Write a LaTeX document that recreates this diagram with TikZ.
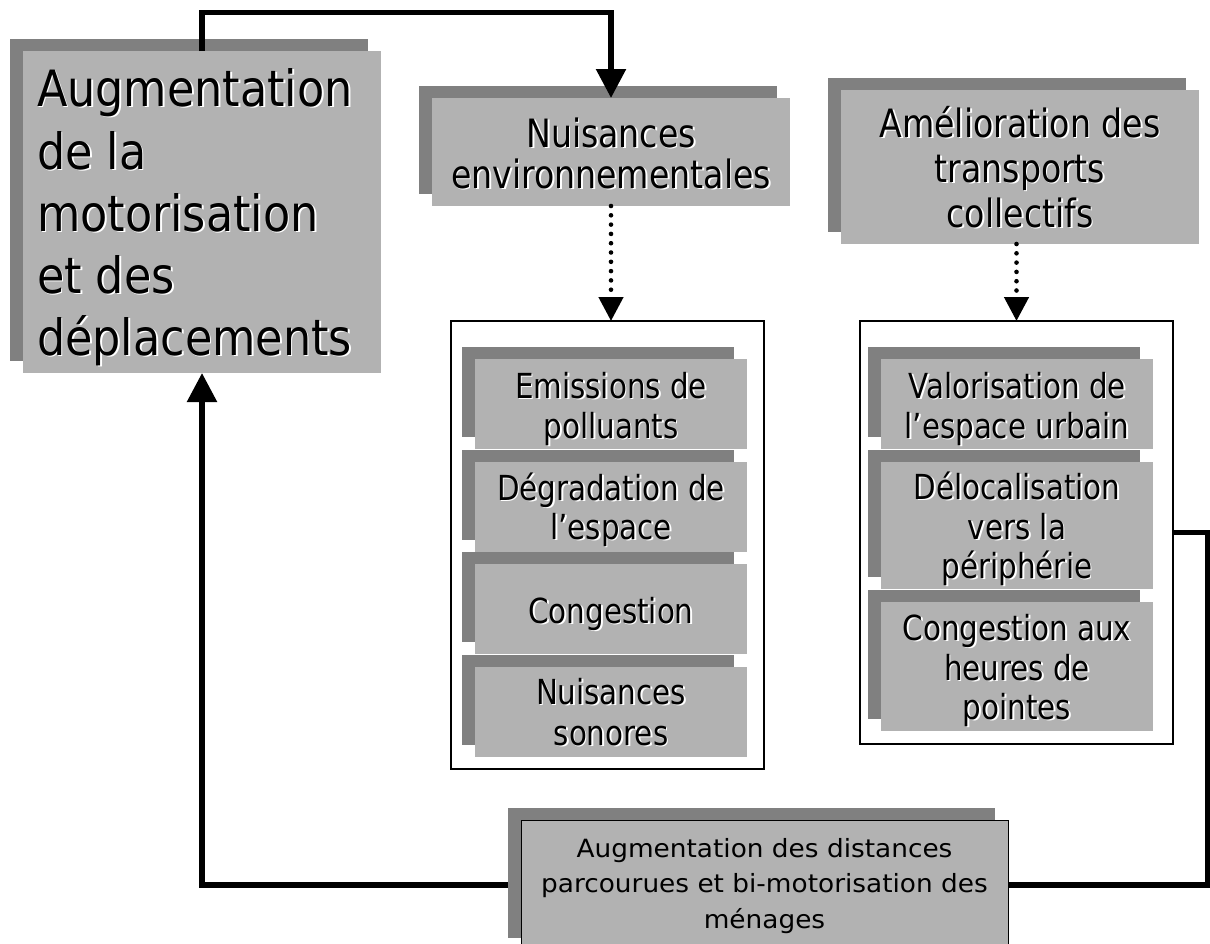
\documentclass[tikz,border=0pt]{standalone}
\usepackage{fontspec}
\setmainfont{DejaVu Sans}
\newfontfamily\cfont[FakeStretch=0.85]{DejaVu Sans}
\newfontfamily\bigfont[FakeStretch=0.89]{DejaVu Sans}
\newfontfamily\widefont[FakeStretch=1.05]{DejaVu Sans}
\usetikzlibrary{arrows.meta,calc}
\definecolor{shadowgray}{RGB}{128,128,128}
\definecolor{boxgray}{RGB}{178,178,178}
\pgfdeclarelayer{bg}
\pgfsetlayers{bg,main}
\tikzset{
  mainbox/.style={fill=boxgray, draw=none, inner sep=0pt, outer sep=0pt, anchor=north west},
  contframe/.style={draw=black, line width=1.5pt, fill=white, inner sep=0pt, outer sep=0pt, anchor=north west},
  txt/.style={inner sep=0pt, outer sep=0pt},
  fbig/.style={txt, font=\bigfont\fontsize{50}{58}\selectfont},
  fmid/.style={txt, font=\cfont\fontsize{39}{46}\selectfont},
  fsmall/.style={txt, font=\cfont\fontsize{34.5}{40}\selectfont},
  fbot/.style={txt, font=\widefont\fontsize{25.1}{30}\selectfont},
  conn/.style={line width=5.5pt, line join=miter},
  solidarrow/.style={conn, -{Triangle[width=29pt,length=29pt]}},
  dotarrow/.style={line width=4.6pt, line cap=round, dash pattern=on 0pt off 9.3pt, -{Triangle[width=24pt,length=24pt]}},
}
\newcommand\gbox[6][]{%
  \fill[shadowgray] (#3-13,#4-12.5) rectangle (#5-13,#6-12.5);
  \node[mainbox, minimum width={#5-#3}, minimum height={#6-#4}, #1] (#2) at (#3,#4) {};
}
\newcommand\etx[4]{%
  \node[anchor=base, #3, text=white] (#1w) at ([xshift=1.8pt,yshift=-1.8pt]#2) {#4};
  \node[anchor=base, #3] (#1) at (#2) {#4};
}
\begin{document}
\begin{tikzpicture}[x=1pt,y=-1pt]
\useasboundingbox (0,0) rectangle (1210,943);
\clip (0,0) rectangle (1210,943);

% main boxes
\gbox{aug}{23}{51}{381}{373}
\etx{a1}{37,106}{fbig, anchor=base west}{Augmentation}
\etx{a2}{37,169}{fbig, anchor=base west}{de la}
\etx{a3}{37,231}{fbig, anchor=base west}{motorisation}
\etx{a4}{37,293}{fbig, anchor=base west}{et des}
\etx{a5}{37,355}{fbig, anchor=base west}{déplacements}

\gbox{nuis}{432}{98}{790}{206}
\etx{n1}{611,147}{fmid}{Nuisances}
\etx{n2}{611,188}{fmid}{environnementales}

\gbox{amel}{841}{90}{1199}{244}
\etx{m1}{1020,137}{fmid}{Amélioration des}
\etx{m2}{1020,182}{fmid}{transports}
\etx{m3}{1020,227}{fmid}{collectifs}

% containers
\node[contframe, minimum width=313, minimum height=448] (cont1) at (451,321) {};
\node[contframe, minimum width=313, minimum height=423] (cont2) at (860,321) {};

% sub boxes, left container
\gbox{e1}{475}{359}{747}{449}
\etx{e1a}{611,398}{fsmall}{Emissions de}
\etx{e1b}{611,438}{fsmall}{polluants}
\gbox{e2}{475}{462}{747}{552}
\etx{e2a}{611,500}{fsmall}{Dégradation de}
\etx{e2b}{611,539}{fsmall}{l’espace}
\gbox{e3}{475}{564}{747}{654}
\etx{e3a}{611,623}{fsmall}{Congestion}
\gbox{e4}{475}{667}{747}{757}
\etx{e4a}{611,704}{fsmall}{Nuisances}
\etx{e4b}{611,745}{fsmall}{sonores}

% sub boxes, right container
\gbox{v1}{881}{359}{1153}{449}
\etx{v1a}{1017,398}{fsmall}{Valorisation de}
\etx{v1b}{1017,438}{fsmall}{l’espace urbain}
\gbox{v2}{881}{462}{1153}{589}
\etx{v2a}{1017,499}{fsmall}{Délocalisation}
\etx{v2b}{1017,539}{fsmall}{vers la}
\etx{v2c}{1017,578}{fsmall}{périphérie}
\gbox{v3}{881}{602}{1153}{731}
\etx{v3a}{1017,640}{fsmall}{Congestion aux}
\etx{v3b}{1017,680}{fsmall}{heures de}
\etx{v3c}{1017,719}{fsmall}{pointes}

% bottom box
\gbox[draw=black, line width=1pt]{bot}{521}{820}{1008}{950}
\node[fbot, anchor=base] (b1) at (764.5,857) {Augmentation des distances};
\node[fbot, anchor=base] (b2) at (764.5,892) {parcourues et bi-motorisation des};
\node[fbot, anchor=base] (b3) at (764.5,928) {ménages};

% connectors
\draw[solidarrow] (aug.north) -- ++(0,-38.5) -| (nuis.north);
\draw[dotarrow] (nuis.south) -- (nuis.south |- cont1.north);
\draw[dotarrow] (amel.south -| cont2.north) -- (cont2.north);
\coordinate (rc) at (1207.5,500);
\begin{pgfonlayer}{bg}
\draw[conn] (cont2.east) -- (cont2.east -| rc) -- (rc |- bot.east) -- (bot.east);
\draw[solidarrow] (bot.west) -| (aug.south);
\end{pgfonlayer}
\end{tikzpicture}
\end{document}
